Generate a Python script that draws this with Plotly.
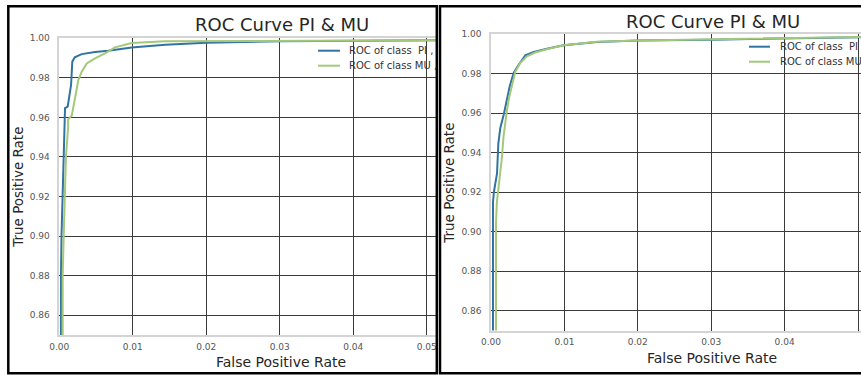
import plotly.graph_objects as go

# ---------------- data ----------------
# Left panel
left_pi_fpr = [0.00019, 0.00019, 0.00023, 0.0003, 0.00046, 0.00064, 0.00078, 0.00078, 0.00114,
               0.00146, 0.0016, 0.00177, 0.0021, 0.00305, 0.00487, 0.00667, 0.00985, 0.0144,
               0.02, 0.03, 0.04, 0.05, 0.06]
left_pi_tpr = [0.80, 0.87, 0.88, 0.90, 0.92, 0.94, 0.96, 0.9647, 0.9655,
               0.972, 0.9764, 0.9882, 0.9904, 0.992, 0.9931, 0.9937, 0.9954, 0.9968,
               0.9978, 0.9985, 0.9988, 0.999, 0.9992]
left_mu_fpr = [0.00046, 0.00046, 0.0006, 0.0009, 0.0012, 0.0012, 0.0017, 0.0019, 0.00223,
               0.00259, 0.00305, 0.00373, 0.00486, 0.00622, 0.00758, 0.00985, 0.0144,
               0.02, 0.03, 0.04, 0.05, 0.06]
left_mu_tpr = [0.80, 0.88, 0.90, 0.94, 0.955, 0.959, 0.961, 0.965, 0.973,
               0.9789, 0.9831, 0.9873, 0.9899, 0.9924, 0.9954, 0.9976, 0.9985,
               0.9986, 0.9988, 0.9989, 0.999, 0.9992]

# Right panel
right_pi_fpr = [0.00027, 0.00027, 0.0004, 0.00082, 0.001, 0.00127, 0.00173, 0.00209, 0.00255,
                0.00309, 0.00377, 0.00468, 0.00582, 0.00763, 0.0099, 0.01444, 0.02, 0.03,
                0.04, 0.05, 0.06]
right_pi_tpr = [0.80, 0.915, 0.9203, 0.9296, 0.9448, 0.9526, 0.9593, 0.9661, 0.9737,
                0.9804, 0.9846, 0.9894, 0.991, 0.9927, 0.9944, 0.9961, 0.9968, 0.9973,
                0.9978, 0.9985, 0.999]
right_mu_fpr = [0.00068, 0.00068, 0.0008, 0.0015, 0.0017, 0.0019, 0.00215, 0.00245, 0.00286,
                0.00332, 0.00399, 0.0049, 0.006, 0.0077, 0.0099, 0.0144, 0.02, 0.03,
                0.04, 0.05, 0.06]
right_mu_tpr = [0.80, 0.9043, 0.915, 0.938, 0.948, 0.955, 0.961, 0.9677, 0.9744,
                0.9811, 0.9855, 0.9889, 0.9908, 0.9926, 0.9945, 0.9962, 0.9969, 0.9974,
                0.998, 0.9987, 0.9992]

title_text = "ROC Curve PI &amp; MU"
x_label = "False Positive Rate"
y_label = "True Positive Rate"
legend_left = ["ROC of class\u00a0\u00a0PI ,", "ROC of class MU ,"]
legend_right = ["ROC of class\u00a0\u00a0PI", "ROC of class MU"]

# ---------------- styling ----------------
W, H = 861, 375
BLUE = "#3274A1"
GREEN = "#A3C87A"
GRID = "#3a3a3a"
SPINE = "#d4d4d4"
FONT = "DejaVu Sans"


def fx(px):
    return px / W


def fy(py):
    return 1 - py / H


fig = go.Figure()

fig.add_trace(go.Scatter(x=left_pi_fpr, y=left_pi_tpr, mode="lines", line=dict(color=BLUE, width=2),
                         xaxis="x", yaxis="y", showlegend=False))
fig.add_trace(go.Scatter(x=left_mu_fpr, y=left_mu_tpr, mode="lines", line=dict(color=GREEN, width=2),
                         xaxis="x", yaxis="y", showlegend=False))
fig.add_trace(go.Scatter(x=right_pi_fpr, y=right_pi_tpr, mode="lines", line=dict(color=BLUE, width=2),
                         xaxis="x2", yaxis="y2", showlegend=False))
fig.add_trace(go.Scatter(x=right_mu_fpr, y=right_mu_tpr, mode="lines", line=dict(color=GREEN, width=2),
                         xaxis="x2", yaxis="y2", showlegend=False))

tickfont = dict(family=FONT, size=9, color="#555555")
common_x = dict(dtick=0.01, tick0=0, tickformat=".2f", showgrid=True, gridcolor=GRID, gridwidth=1.3,
                zeroline=False, showline=True, linecolor=SPINE, linewidth=1.5, mirror=True,
                ticks="", tickfont=tickfont, ticklabelstandoff=2, automargin=False)
common_y = dict(dtick=0.02, tick0=0.86, tickformat=".2f", showgrid=True, gridcolor=GRID, gridwidth=1.3,
                zeroline=False, showline=True, linecolor=SPINE, linewidth=1.5, mirror=False,
                ticks="", tickfont=tickfont, ticklabelstandoff=6, range=[0.85, 1.0], automargin=False)

fig.update_layout(
    width=W, height=H,
    margin=dict(l=0, r=0, t=0, b=0, autoexpand=False),
    paper_bgcolor="white", plot_bgcolor="white",
    xaxis=dict(common_x, domain=[fx(59.3), fx(437)], range=[0, (437 - 59.3) / 7350], anchor="y"),
    yaxis=dict(common_y, domain=[fy(335), fy(38.3)], anchor="x"),
    xaxis2=dict(common_x, domain=[fx(491), 1], range=[0, (861 - 491) / 7340], anchor="y2"),
    yaxis2=dict(common_y, domain=[fy(330.6), fy(34.3)], anchor="x2"),
)

shapes = []
# legend line samples
for (x0, x1, ys) in [(318, 340, (50.7, 65.7)), (749, 770, (46.7, 61.7))]:
    for yy, col in zip(ys, (BLUE, GREEN)):
        shapes.append(dict(type="line", xref="paper", yref="paper", x0=fx(x0), x1=fx(x1),
                           y0=fy(yy), y1=fy(yy), line=dict(color=col, width=2)))
# black screenshot borders
shapes.append(dict(type="rect", xref="paper", yref="paper", x0=fx(8.3), x1=fx(436.8),
                   y0=fy(6.2), y1=fy(373.2), line=dict(color="black", width=2.5), layer="above"))
shapes.append(dict(type="rect", xref="paper", yref="paper", x0=fx(440.0), x1=fx(880),
                   y0=fy(6.2), y1=fy(373.2), line=dict(color="black", width=2.5), layer="above"))
fig.update_layout(shapes=shapes)

ann = []


def text(x, y, s, size, color="#262626", xanchor="center", angle=0):
    ann.append(dict(xref="paper", yref="paper", x=fx(x), y=fy(y), text=s, showarrow=False,
                    xanchor=xanchor, yanchor="middle", textangle=angle,
                    font=dict(family=FONT, size=size, color=color)))


text(281.7, 25, title_text, 18)
text(713, 21.7, title_text, 18)
text(280.5, 361.7, x_label, 14)
text(711.7, 358.3, x_label, 14)
text(17.8, 187, y_label, 13.5, angle=-90)
text(449.5, 183.3, y_label, 13.5, angle=-90)
for lbl, yy in zip(legend_left, (50.7, 65.7)):
    text(346.5, yy, lbl, 10, color="#333333", xanchor="left")
for lbl, yy in zip(legend_right, (46.7, 61.7)):
    text(777.5, yy, lbl, 10, color="#333333", xanchor="left")
fig.update_layout(annotations=ann)

fig.write_html("out.html")
